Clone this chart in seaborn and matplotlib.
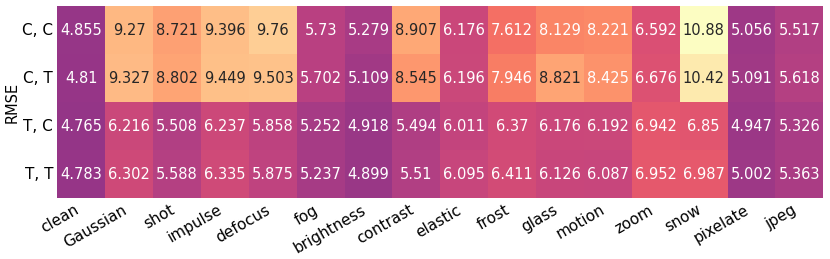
import numpy as np
import pandas as pd
import seaborn as sns
import matplotlib
matplotlib.use("Agg")
import matplotlib.pyplot as plt

corruptions = ["clean", "Gaussian", "shot", "impulse", "defocus", "fog",
               "brightness", "contrast", "elastic", "frost", "glass",
               "motion", "zoom", "snow", "pixelate", "jpeg"]
settings = ["C, C", "C, T", "T, C", "T, T"]

rmse_cc = [4.855, 9.27, 8.721, 9.396, 9.76, 5.73, 5.279, 8.907, 6.176,
           7.612, 8.129, 8.221, 6.592, 10.88, 5.056, 5.517]
rmse_ct = [4.81, 9.327, 8.802, 9.449, 9.503, 5.702, 5.109, 8.545, 6.196,
           7.946, 8.821, 8.425, 6.676, 10.42, 5.091, 5.618]
rmse_tc = [4.765, 6.216, 5.508, 6.237, 5.858, 5.252, 4.918, 5.494, 6.011,
           6.37, 6.176, 6.192, 6.942, 6.85, 4.947, 5.326]
rmse_tt = [4.783, 6.302, 5.588, 6.335, 5.875, 5.237, 4.899, 5.51, 6.095,
           6.411, 6.126, 6.087, 6.952, 6.987, 5.002, 5.363]

df = pd.DataFrame([rmse_cc, rmse_ct, rmse_tc, rmse_tt],
                  index=settings, columns=corruptions)

fig, ax = plt.subplots(figsize=(8.3, 2.59), dpi=100)
sns.heatmap(df, ax=ax, cmap="magma", vmin=0.6, vmax=df.values.max(),
            annot=True, fmt=".4g", cbar=False, alpha=0.95,
            annot_kws={"fontsize": 10.5})
ax.set_ylabel("RMSE", fontsize=10.5, labelpad=2)
ax.set_xticklabels(ax.get_xticklabels(), rotation=30, ha="right",
                   fontsize=11)
ax.set_yticklabels(ax.get_yticklabels(), rotation=0, fontsize=11)
ax.tick_params(length=0, pad=3)
plt.subplots_adjust(left=0.069, right=0.992, top=0.975, bottom=0.235)
plt.savefig("out.png", dpi=100)
